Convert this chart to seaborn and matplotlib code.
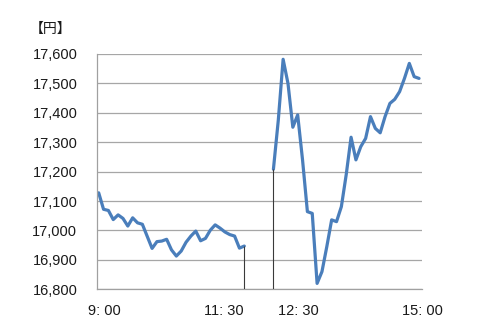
import matplotlib
matplotlib.use("Agg")
import matplotlib.pyplot as plt
import matplotlib.transforms as mtransforms
import numpy as np
import pandas as pd
import seaborn as sns

# ---- data ----
morning_values = [17128, 17072, 17068, 17037, 17053, 17041, 17015, 17043, 17026, 17021,
                  16980, 16939, 16962, 16964, 16970, 16934, 16913, 16930, 16960, 16981,
                  16998, 16965, 16973, 17001, 17019, 17008, 16995, 16986, 16981, 16940,
                  16947]
afternoon_values = [17208, 17374, 17582, 17500, 17351, 17393, 17240, 17064, 17058, 16820,
                    16860, 16945, 17036, 17030, 17081, 17190, 17317, 17240, 17285, 17313,
                    17387, 17347, 17332, 17387, 17432, 17446, 17472, 17517, 17568, 17523,
                    17517]
time_labels = ["9: 00", "11: 30", "12: 30", "15: 00"]
y_ticks = [16800, 16900, 17000, 17100, 17200, 17300, 17400, 17500, 17600]
unit_label = "【円】"

# ---- layout ----
gap_slots = 6  # empty category slots between sessions (lunch break)
am_idx = np.arange(len(morning_values))
pm_idx = np.arange(len(afternoon_values)) + am_idx[-1] + gap_slots
df = pd.DataFrame({
    "idx": np.concatenate([am_idx, pm_idx]),
    "price": morning_values + afternoon_values,
    "session": ["am"] * len(am_idx) + ["pm"] * len(pm_idx),
})

sns.set_style("white")
plt.rcParams["font.family"] = ["Noto Sans CJK JP", "DejaVu Sans"]

fig = plt.figure(figsize=(4.78, 3.29), dpi=100)
ax = fig.add_axes([0.2023, 0.1207, 0.6799, 0.7152])

line_color = "#4a7ebb"
sns.lineplot(data=df, x="idx", y="price", units="session", estimator=None,
             color=line_color, linewidth=2.3, ax=ax, legend=False)

# drop lines at session ends
ymin, ymax = y_ticks[0], y_ticks[-1]
ax.vlines([am_idx[-1], pm_idx[0]], ymin, [morning_values[-1], afternoon_values[0]],
          color="#3a3a3a", linewidth=0.8, zorder=3)

ax.set_ylim(ymin, ymax)
ax.set_xlim(-0.41, pm_idx[-1] + 0.55)
ax.set_yticks(y_ticks)
ax.set_yticklabels([f"{v:,}" for v in y_ticks], fontsize=10.5, color="#1a1a1a",
                   family=["Liberation Sans"])
ax.yaxis.grid(True, color="#a6a6a6", linewidth=0.9)
ax.set_axisbelow(True)
ax.tick_params(axis="y", length=0, pad=14)
ax.set_xticks([])
ax.set_xlabel("")
ax.set_ylabel("")
for side in ["top", "right"]:
    ax.spines[side].set_visible(False)
for side in ["left", "bottom"]:
    ax.spines[side].set_color("#a0a0a0")
    ax.spines[side].set_linewidth(0.9)

# time labels
trans = mtransforms.blended_transform_factory(ax.transData, ax.transAxes)
label_pos = [1.1, 25.8, 41.1, 66.8]
for pos, lab in zip(label_pos, time_labels):
    ax.text(pos, -0.093, lab, transform=trans, ha="center", va="center",
            fontsize=10.5, color="#1a1a1a", family=["Liberation Sans"])

fig.text(51 / 478, 1 - 29 / 329, unit_label, ha="center", va="center",
         fontsize=10, color="#1a1a1a")

fig.savefig("out.png", dpi=100)
